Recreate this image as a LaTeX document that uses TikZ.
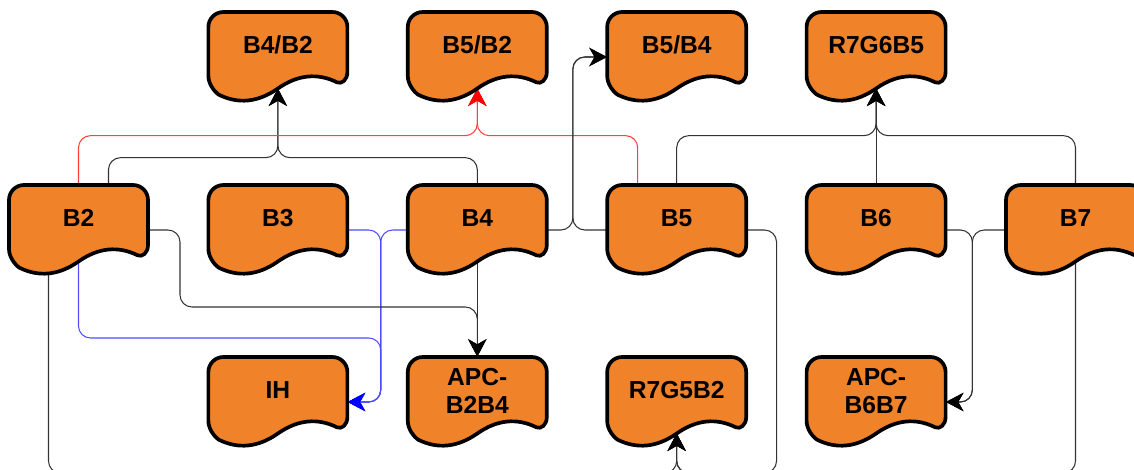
\documentclass[tikz,border=0pt]{standalone}
\usepackage{fontspec}
\setmainfont{Liberation Sans}
\usetikzlibrary{arrows.meta,calc}
\pgfdeclarelayer{bg}
\pgfsetlayers{bg,main}
\definecolor{docfill}{RGB}{240,131,41}
\tikzset{
  box/.style={draw=none, rectangle, minimum width=2.78cm, minimum height=1.8cm, inner sep=0pt},
  lab/.style={font=\fontsize{14}{16}\selectfont\bfseries, align=center, inner sep=0pt, text=black},
  docsty/.style={draw=black, line width=2.1pt, fill=docfill, line join=round},
  lnbase/.style={line width=0.6pt, rounded corners=0.24cm},
  ln/.style={lnbase, draw=black!80, -{Stealth[length=10pt,width=10.5pt,inset=3pt,color=black]}},
  lnr/.style={lnbase, draw=red!75, -{Stealth[length=10pt,width=10.5pt,inset=3pt,color=red]}},
  lnb/.style={lnbase, draw=blue!70, -{Stealth[length=10pt,width=10.5pt,inset=3pt,color=blue]}},
}
\newcommand{\docnode}[5]{%
  \node[box] (#1) at (#2+69.5,#3+45) {};
  \coordinate (#1w) at (#2+69.5,#3+76.5);
  \draw[docsty, shift={(#2,#3)}] (0,15) .. controls (0,6.7) and (6.7,0) .. (15,0)
    -- (124,0) .. controls (132.3,0) and (139,6.7) .. (139,15)
    -- (139,60) .. controls (139,68) and (133.1,72.5) .. (128.6,70.3)
    .. controls (108.9,60.6) and (89.2,62.7) .. (69.5,76.5)
    .. controls (49.8,90.3) and (30.1,92.4) .. (10.4,82.7)
    .. controls (5.9,79.6) and (0,72) .. (0,64) -- cycle;
  \node[lab] (#1t) at (#2+69.5,#3+#4) {#5};
}
\begin{document}
\begin{tikzpicture}[x=0.02cm,y=-0.02cm]
\useasboundingbox (0,0) rectangle (1134,470);
\begin{scope}
\clip (0,0) rectangle (1134,470);
% top row
\docnode{b4b2}{208.4}{12}{33}{B4/B2}
\docnode{b5b2}{407.8}{12}{33}{B5/B2}
\docnode{b5b4}{607.2}{12}{33}{B5/B4}
\docnode{r7g6b5}{806.6}{12}{33}{R7G6B5}
% middle row
\docnode{b2}{9}{185}{33}{B2}
\docnode{b3}{208.4}{185}{33}{B3}
\docnode{b4}{407.8}{185}{33}{B4}
\docnode{b5}{607.2}{185}{33}{B5}
\docnode{b6}{806.6}{185}{33}{B6}
\docnode{b7}{1006}{185}{33}{B7}
% bottom row
\docnode{ih}{208.4}{357}{33}{IH}
\docnode{apc1}{407.8}{357}{34}{APC-\\B2B4}
\docnode{r7g5b2}{607.2}{357}{33}{R7G5B2}
\docnode{apc2}{806.6}{357}{34}{APC-\\B6B7}
\end{scope}
\begin{pgfonlayer}{bg}
\begin{scope}
\clip (0,0) rectangle (1134,470);
\draw[ln] ($(b2.north)+(30,0)$) -- ++(0,-27) -| (b4b2w);
\draw[ln] (b4.north) -- ++(0,-27) -| (b4b2w);
\draw[lnr] (b2.north) -- ++(0,-49) -| (b5b2w);
\draw[lnr] ($(b5.north)+(-39,0)$) -- ++(0,-49) -| (b5b2w);
\draw[ln] (b4.east) -| ($(b5b4.west)+(-34,0)$) -- (b5b4.west);
\draw[ln] (b5.west) -| ($(b5b4.west)+(-34,0)$) -- (b5b4.west);
\draw[ln] (b5.north) -- ++(0,-49) -| (r7g6b5w);
\draw[ln] (b6.north) -- (r7g6b5w);
\draw[ln] (b7.north) -- ++(0,-49) -| (r7g6b5w);
\draw[lnb] (b3.east) -| ($(ih.east)+(33,0)$) -- (ih.east);
\draw[lnb] (b4.west) -| ($(ih.east)+(33,0)$) -- (ih.east);
\draw[lnb] (b2.center) -- ++(0,108) -| ($(ih.east)+(33,0)$) -- (ih.east);
\draw[ln] (b2.east) -| (180,307) -| (apc1.north);
\draw[ln] (b4.center) -- (apc1.north);
\draw[ln] (b6.east) -| ($(apc2.east)+(26.4,0)$) -- (apc2.east);
\draw[ln] (b7.west) -| ($(apc2.east)+(26.4,0)$) -- (apc2.east);
\draw[ln] ($(b2.center)+(-30,0)$) -- ++(0,243) -| (r7g5b2w);
\draw[ln] (b5.east) -- ++(30,0) -- ++(0,243) -| (r7g5b2w);
\draw[ln] (b7.center) -- ++(0,243) -| (r7g5b2w);
\end{scope}
\end{pgfonlayer}
\end{tikzpicture}
\end{document}
